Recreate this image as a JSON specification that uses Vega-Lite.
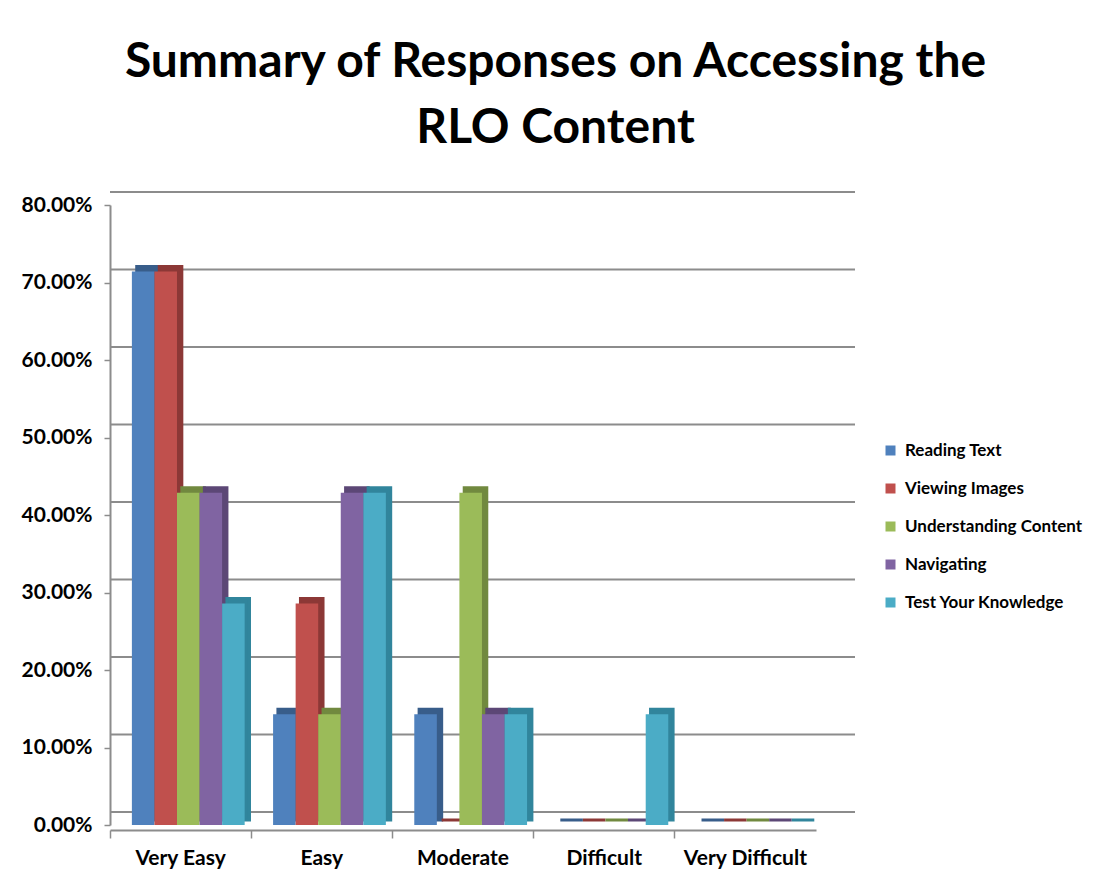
{
  "$schema": "https://vega.github.io/schema/vega-lite/v6.json",
  "width": 725,
  "height": 620,
  "autosize": {"type": "none"},
  "padding": {"left": 110, "top": 205, "right": 265, "bottom": 63},
  "background": "white",
  "title": {
    "text": ["Summary of Responses on Accessing the", "RLO Content"],
    "font": "Lato",
    "fontSize": 48,
    "fontWeight": "bold",
    "color": "#000000",
    "lineHeight": 66,
    "anchor": "middle",
    "frame": "group",
    "dx": 83,
    "offset": 38
  },
  "config": {"view": {"stroke": null}},
  "datasets": {
    "resp": [
      {"r": "Very Easy", "s": "Reading Text", "v": 0.7143},
      {"r": "Very Easy", "s": "Viewing Images", "v": 0.7143},
      {"r": "Very Easy", "s": "Understanding Content", "v": 0.4286},
      {"r": "Very Easy", "s": "Navigating", "v": 0.4286},
      {"r": "Very Easy", "s": "Test Your Knowledge", "v": 0.2857},
      {"r": "Easy", "s": "Reading Text", "v": 0.1429},
      {"r": "Easy", "s": "Viewing Images", "v": 0.2857},
      {"r": "Easy", "s": "Understanding Content", "v": 0.1429},
      {"r": "Easy", "s": "Navigating", "v": 0.4286},
      {"r": "Easy", "s": "Test Your Knowledge", "v": 0.4286},
      {"r": "Moderate", "s": "Reading Text", "v": 0.1429},
      {"r": "Moderate", "s": "Viewing Images", "v": 0},
      {"r": "Moderate", "s": "Understanding Content", "v": 0.4286},
      {"r": "Moderate", "s": "Navigating", "v": 0.1429},
      {"r": "Moderate", "s": "Test Your Knowledge", "v": 0.1429},
      {"r": "Difficult", "s": "Reading Text", "v": 0},
      {"r": "Difficult", "s": "Viewing Images", "v": 0},
      {"r": "Difficult", "s": "Understanding Content", "v": 0},
      {"r": "Difficult", "s": "Navigating", "v": 0},
      {"r": "Difficult", "s": "Test Your Knowledge", "v": 0.1429},
      {"r": "Very Difficult", "s": "Reading Text", "v": 0},
      {"r": "Very Difficult", "s": "Viewing Images", "v": 0},
      {"r": "Very Difficult", "s": "Understanding Content", "v": 0},
      {"r": "Very Difficult", "s": "Navigating", "v": 0},
      {"r": "Very Difficult", "s": "Test Your Knowledge", "v": 0}
    ],
    "grid": [
      {"g": 0}, {"g": 0.1}, {"g": 0.2}, {"g": 0.3}, {"g": 0.4},
      {"g": 0.5}, {"g": 0.6}, {"g": 0.7}, {"g": 0.8}
    ]
  },
  "layer": [
    {
      "data": {"name": "grid"},
      "mark": {"type": "rule", "color": "#8c8c8c", "strokeWidth": 2, "xOffset": 20, "yOffset": -13},
      "encoding": {
        "y": {"field": "g", "type": "quantitative", "scale": {"domain": [0, 0.8]},
          "axis": {"title": null, "format": ".2%", "values": [0, 0.1, 0.2, 0.3, 0.4, 0.5, 0.6, 0.7, 0.8], "labelFont": "Lato", "labelFontSize": 21, "labelFontWeight": "bold", "labelColor": "#000000", "labelPadding": 12, "domainColor": "#8c8c8c", "domainWidth": 2, "tickColor": "#8c8c8c", "tickWidth": 1.5, "tickSize": 6, "grid": false}}
      }
    },
    {
      "data": {"name": "resp"},
      "mark": {"type": "bar", "strokeWidth": 3},
      "encoding": {
        "x": {"field": "r", "type": "nominal", "sort": ["Very Easy", "Easy", "Moderate", "Difficult", "Very Difficult"], "scale": {"range": [0, 706], "paddingInner": 0, "paddingOuter": 0},
          "axis": {"title": null, "labelAngle": 0, "bandPosition": 0, "labelFont": "Lato", "labelFontSize": 21, "labelFontWeight": "bold", "labelColor": "#000000", "labelPadding": 9, "domainColor": "#8c8c8c", "domainWidth": 2, "tickColor": "#8c8c8c", "tickWidth": 1.5, "tickSize": 8, "offset": 5, "grid": false}},
        "xOffset": {"field": "s", "type": "nominal", "sort": ["Reading Text", "Viewing Images", "Understanding Content", "Navigating", "Test Your Knowledge"], "scale": {"paddingOuter": 0.63, "paddingInner": 0, "align": 0.94}},
        "y": {"field": "v", "type": "quantitative", "scale": {"domain": [0, 0.8]},
          "axis": {"title": null, "format": ".2%", "values": [0, 0.1, 0.2, 0.3, 0.4, 0.5, 0.6, 0.7, 0.8], "labelFont": "Lato", "labelFontSize": 21, "labelFontWeight": "bold", "labelColor": "#000000", "labelPadding": 12, "domainColor": "#8c8c8c", "domainWidth": 2, "tickColor": "#8c8c8c", "tickWidth": 1.5, "tickSize": 6, "grid": false}},
        "yOffset": {"value": -5},
        "color": {"field": "s", "type": "nominal", "scale": {"domain": ["Reading Text", "Viewing Images", "Understanding Content", "Navigating", "Test Your Knowledge"], "range": ["#385d8a", "#8c3836", "#71893f", "#5c4776", "#31859c"]}, "legend": null},
        "stroke": {"field": "s", "type": "nominal", "scale": {"domain": ["Reading Text", "Viewing Images", "Understanding Content", "Navigating", "Test Your Knowledge"], "range": ["#385d8a", "#8c3836", "#71893f", "#5c4776", "#31859c"]}, "legend": null}
      }
    },
    {
      "data": {"name": "resp"},
      "mark": {"type": "bar", "stroke": null},
      "encoding": {
        "x": {"field": "r", "type": "nominal", "sort": ["Very Easy", "Easy", "Moderate", "Difficult", "Very Difficult"], "scale": {"range": [0, 706], "paddingInner": 0, "paddingOuter": 0},
          "axis": {"title": null, "labelAngle": 0, "bandPosition": 0, "labelFont": "Lato", "labelFontSize": 21, "labelFontWeight": "bold", "labelColor": "#000000", "labelPadding": 9, "domainColor": "#8c8c8c", "domainWidth": 2, "tickColor": "#8c8c8c", "tickWidth": 1.5, "tickSize": 8, "offset": 5, "grid": false}},
        "xOffset": {"field": "s", "type": "nominal", "sort": ["Reading Text", "Viewing Images", "Understanding Content", "Navigating", "Test Your Knowledge"], "scale": {"paddingOuter": 0.63, "paddingInner": 0, "align": 0.77}},
        "y": {"field": "v", "type": "quantitative", "scale": {"domain": [0, 0.8]},
          "axis": {"title": null, "format": ".2%", "values": [0, 0.1, 0.2, 0.3, 0.4, 0.5, 0.6, 0.7, 0.8], "labelFont": "Lato", "labelFontSize": 21, "labelFontWeight": "bold", "labelColor": "#000000", "labelPadding": 12, "domainColor": "#8c8c8c", "domainWidth": 2, "tickColor": "#8c8c8c", "tickWidth": 1.5, "tickSize": 6, "grid": false}},
        "color": {"field": "s", "type": "nominal", "sort": ["Reading Text", "Viewing Images", "Understanding Content", "Navigating", "Test Your Knowledge"], "scale": {"domain": ["Reading Text", "Viewing Images", "Understanding Content", "Navigating", "Test Your Knowledge"], "range": ["#4f81bd", "#c0504d", "#9bbb59", "#8064a2", "#4bacc6"]},
          "legend": {"title": null, "orient": "none", "legendX": 772, "legendY": 237, "symbolType": "square", "symbolSize": 100, "symbolStrokeWidth": 0, "labelFont": "Lato", "labelFontSize": 17, "labelFontWeight": "bold", "labelColor": "#000000", "rowPadding": 20, "labelOffset": 6, "labelLimit": 300}}
      }
    }
  ],
  "resolve": {"scale": {"color": "independent", "stroke": "independent", "xOffset": "independent"}}
}
